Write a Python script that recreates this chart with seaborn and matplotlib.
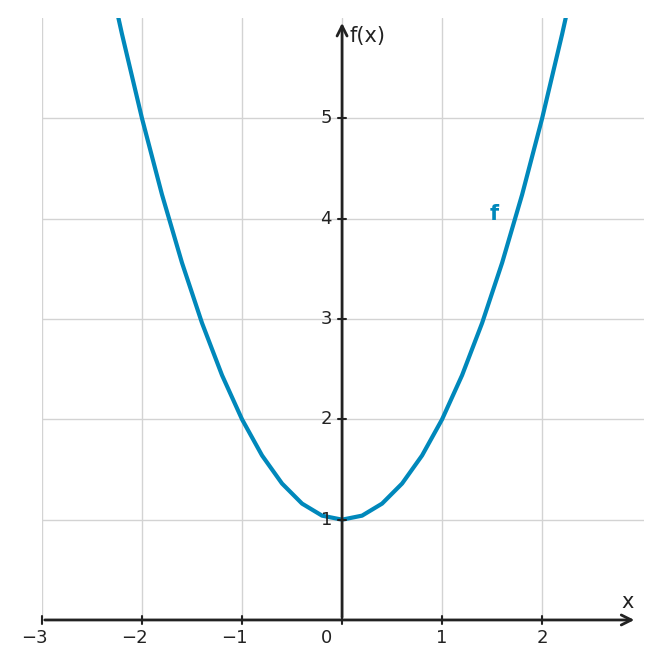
import matplotlib
matplotlib.use('Agg')
import matplotlib.pyplot as plt
import numpy as np
import seaborn as sns

x_vals = [-2.3, -2.2, -2.0, -1.8, -1.6, -1.4, -1.2, -1.0, -0.8, -0.6, -0.4, -0.2,
          0.0, 0.2, 0.4, 0.6, 0.8, 1.0, 1.2, 1.4, 1.6, 1.8, 2.0, 2.2, 2.3]
y_vals = [6.29, 5.84, 5.0, 4.24, 3.56, 2.96, 2.44, 2.0, 1.64, 1.36, 1.16, 1.04,
          1.0, 1.04, 1.16, 1.36, 1.64, 2.0, 2.44, 2.96, 3.56, 4.24, 5.0, 5.84, 6.29]
x_ticks = [-3, -2, -1, 0, 1, 2]
y_ticks = [1, 2, 3, 4, 5]
curve_color = '#0088bb'

sns.set_style('white')
fig = plt.figure(figsize=(6.61, 6.68), dpi=100)
ax = fig.add_axes([0.0635, 0.0719, 0.911, 0.901])
ax.set_xlim(-3, 3.02)
ax.set_ylim(0, 6.0)

for t in x_ticks:
    ax.axvline(t, color='#d3d3d3', lw=1, zorder=0)
for t in y_ticks:
    ax.axhline(t, color='#d3d3d3', lw=1, zorder=0)

sns.lineplot(x=x_vals, y=y_vals, ax=ax, color=curve_color, lw=3, sort=False)

for s in ax.spines.values():
    s.set_visible(False)
ax.set_xticks([])
ax.set_yticks([])

axc = '#222222'
ax.annotate('', xy=(2.95, 0), xytext=(-3, 0),
            arrowprops=dict(arrowstyle='->', color=axc, lw=2, mutation_scale=18), annotation_clip=False)
ax.annotate('', xy=(0, 5.98), xytext=(0, 0),
            arrowprops=dict(arrowstyle='->', color=axc, lw=2, mutation_scale=18), annotation_clip=False)

for t in x_ticks:
    ax.plot([t, t], [-0.04, 0.04], color=axc, lw=1.5, clip_on=False)
    xt = t - 0.16 if t == 0 else t - 0.08 if t < 0 else t
    ax.text(xt, -0.09, '\u2212' + str(-t) if t < 0 else str(t), ha='center', va='top',
            fontsize=13, color=axc)
for t in y_ticks:
    ax.plot([-0.04, 0.04], [t, t], color=axc, lw=1.5)
    ax.text(-0.1, t, str(t), ha='right', va='center', fontsize=13, color=axc)

ax.text(2.92, 0.08, 'x', ha='right', va='bottom', fontsize=15, color=axc)
ax.text(0.07, 5.82, 'f(x)', ha='left', va='center', fontsize=15, color=axc)
ax.text(1.52, 4.05, 'f', ha='center', va='center', fontsize=15, fontweight='bold',
        color=curve_color)

fig.savefig('out.png', dpi=100)
